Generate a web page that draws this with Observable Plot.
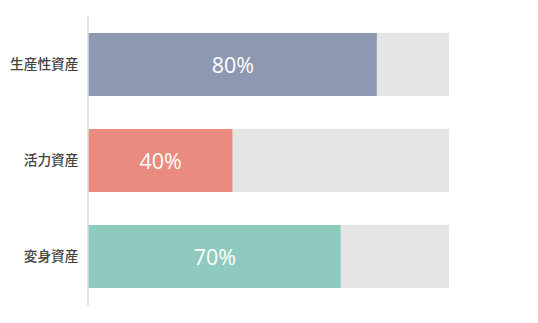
<!DOCTYPE html>
<html>
<head>
<meta charset="utf-8">
<script src="https://cdn.jsdelivr.net/npm/d3@7"></script>
<script src="https://cdn.jsdelivr.net/npm/@observablehq/plot@0.6"></script>
<style>
  html, body { margin: 0; padding: 0; background: #fff; }
</style>
</head>
<body>
<div id="chart"></div>
<script>
const categories = ["生産性資産", "活力資産", "変身資産"];
const values = [80, 40, 70];
const colors = ["#8d98b2", "#e98b7e", "#8ecabd"];
const maxValue = 100;

const data = categories.map((c, i) => ({category: c, value: values[i], color: colors[i]}));

const chart = Plot.plot({
  width: 538,
  height: 323,
  marginTop: 16,
  marginBottom: 17,
  marginLeft: 88,
  marginRight: 89,
  x: {domain: [0, maxValue], axis: null},
  y: {domain: categories, paddingInner: 0.34, paddingOuter: 0.17, label: null, tickSize: 0, tickPadding: 10},
  style: {fontFamily: "'Noto Sans CJK JP', sans-serif", background: "#fff"},
  marks: [
    Plot.barX(data, {y: "category", x1: 0, x2: maxValue, fill: "#e6e5e5"}),
    Plot.barX(data, {y: "category", x1: 0, x2: "value", fill: "color"}),
    Plot.ruleX([0], {stroke: "#dcdcdc", strokeWidth: 1.5, dx: -0.5}),
    Plot.axisY({tickSize: 0, tickPadding: 10, label: null, fontSize: 13.7, fill: "#444", fontWeight: 500}),
    Plot.text(data, {y: "category", x: d => d.value / 2, text: d => d.value + "%", fill: "#fff", fontSize: 21.5, dy: 1, fontFamily: "'Open Sans', sans-serif"})
  ]
});
document.getElementById("chart").appendChild(chart);
</script>
</body>
</html>
